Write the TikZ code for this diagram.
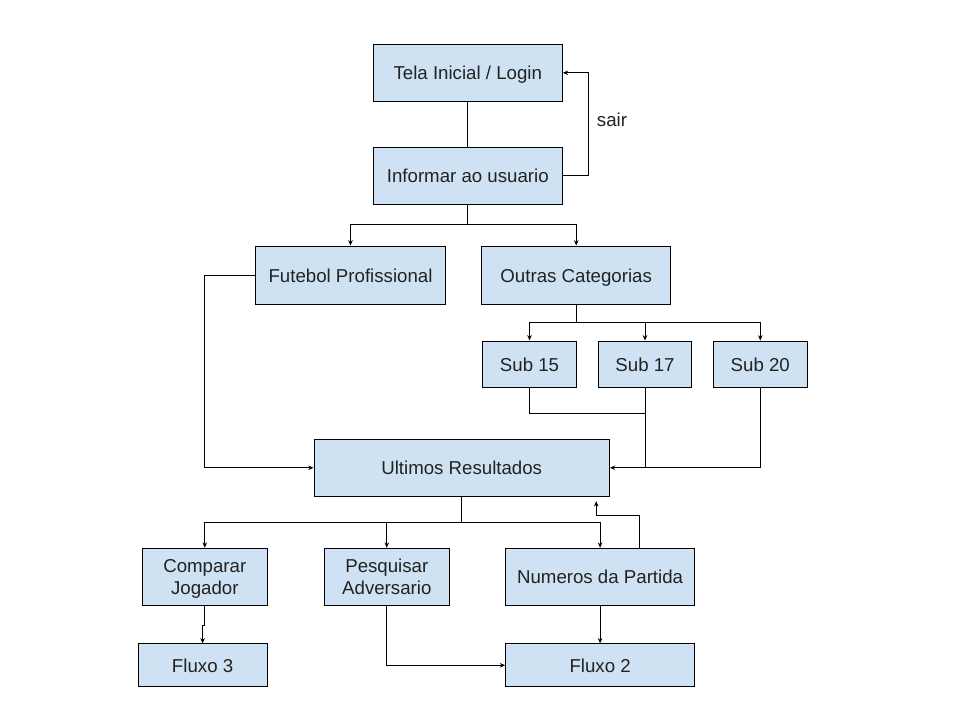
\documentclass[tikz,border=0pt]{standalone}
\usepackage{fontspec}
\setmainfont{Liberation Sans}
\usetikzlibrary{arrows.meta,calc}
\definecolor{boxfill}{HTML}{CFE2F3}
\definecolor{txt}{HTML}{222222}
\begin{document}
\begin{tikzpicture}[x=0.75pt,y=-0.75pt,
  box/.style={draw=black,fill=boxfill,line width=0.8pt,inner sep=0pt,align=center,
    text=txt,font=\fontsize{14}{16.5}\selectfont},
  one/.style={text height=10.8pt,text depth=0.4pt},
  two/.style={text depth=0pt},
  bw/.style={minimum width=#1*0.75pt},
  bh/.style={minimum height=#1*0.75pt},
  conn/.style={draw=black,line width=0.75pt},
  arr/.style={conn,-{Stealth[length=4pt,width=3.4pt]}},
  lbl/.style={text=txt,font=\fontsize{14}{16.5}\selectfont,inner sep=0pt}]
\useasboundingbox[fill=white] (0,0) rectangle (960,720);

\node[box,one,bw=189,bh=57] (tela) at (467.8,72.8) {Tela Inicial / Login};
\node[box,one,bw=189,bh=56.7] (info) at (467.8,175.7) {Informar ao usuario};
\node[box,one,bw=190.4,bh=58.3] (fut) at (350.5,275.2) {Futebol Profissional};
\node[box,one,bw=189,bh=58.3] (outras) at (576.2,275.2) {Outras Categorias};
\node[box,one,bw=94.4,bh=46.3] (sub15) at (529.5,364.2) {Sub 15};
\node[box,one,bw=93.4,bh=46.3] (sub17) at (645,364.2) {Sub 17};
\node[box,one,bw=94,bh=46.3] (sub20) at (760.3,364.2) {Sub 20};
\node[box,one,bw=295.3,bh=57] (ult) at (461.7,467.8) {Ultimos Resultados};
\node[box,two,bw=125.2,bh=57] (comp) at (204.8,576.8) {Comparar\\Jogador};
\node[box,two,bw=124.8,bh=57] (pesq) at (386.8,576.8) {Pesquisar\\Adversario};
\node[box,one,bw=188.8,bh=57] (num) at (600.1,576.8) {Numeros da Partida};
\node[box,one,bw=128.9,bh=42.7] (flux3) at (202.6,665.3) {Fluxo 3};
\node[box,one,bw=188.8,bh=42.7] (flux2) at (600.1,665.3) {Fluxo 2};
\node[lbl,one] (sair) at (612,119.5) {sair};

% top part
\draw[conn] (tela.south) -- (info.north);
\draw[arr] (info.east) -- ++(25.5,0) |- (tela.east);
\coordinate (j1) at (467.8,225);
\draw[arr] (info.south) -- (j1) -| (fut.north);
\draw[arr] (j1) -| (outras.north);

% sub categories
\coordinate (j2) at (576.2,322.3);
\draw[conn] (outras.south) -- (j2);
\draw[arr] (j2) -| (sub15.north);
\draw[arr] (j2) -| (sub17.north);
\draw[arr] (j2) -| (sub20.north);
\draw[conn] (sub15.south) -- ++(0,26) -| (sub17.south |- ult.east);
\draw[conn] (sub17.south) -- (sub17.south |- ult.east);
\draw[arr] (sub20.south) |- (ult.east);
\draw[arr] (fut.west) -- ++(-50.6,0) |- (ult.west);

% results
\coordinate (j3) at (461.7,522.3);
\draw[conn] (ult.south) -- (j3);
\draw[arr] (j3) -| (comp.north);
\draw[arr] (j3) -| (pesq.north);
\draw[arr] (j3) -| (num.north);
\coordinate (ret) at (596.2,501.2);
\draw[arr] ($(num.north)+(39.7,0)$) |- (596.2,515) -- (ret);

% bottom
\draw[arr] (comp.south) -- ++(0,19.7) -| (flux3.north);
\draw[arr] (pesq.south) |- (flux2.west);
\draw[arr] (num.south) -- (flux2.north);
\end{tikzpicture}
\end{document}
